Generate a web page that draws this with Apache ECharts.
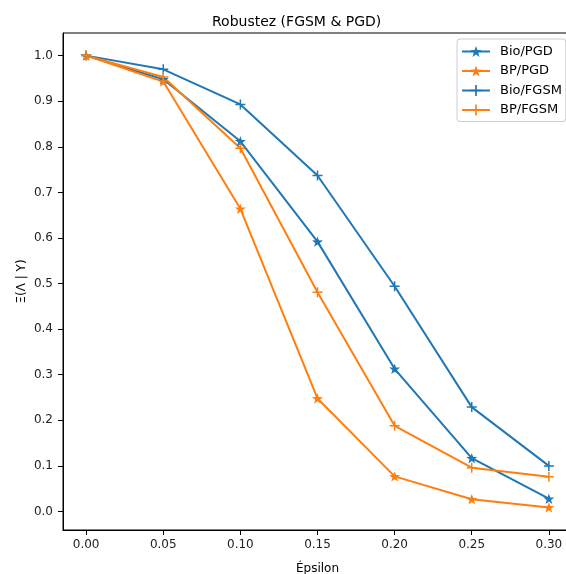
<!DOCTYPE html>
<html>
<head>
<meta charset="utf-8">
<script src="https://cdn.jsdelivr.net/npm/echarts@6/dist/echarts.min.js"></script>
<style>html,body{margin:0;padding:0;background:#fff}#c{width:566px;height:574px}</style>
</head>
<body>
<div id="c"></div>
<script>
const epsilon = [0.00, 0.05, 0.10, 0.15, 0.20, 0.25, 0.30];
const bioPGD  = [1.000, 0.948, 0.812, 0.592, 0.313, 0.117, 0.028];
const bpPGD   = [1.000, 0.943, 0.664, 0.248, 0.077, 0.027, 0.009];
const bioFGSM = [1.000, 0.970, 0.893, 0.737, 0.494, 0.229, 0.100];
const bpFGSM  = [1.000, 0.953, 0.797, 0.481, 0.188, 0.096, 0.076];
const xTicks = [0.00, 0.05, 0.10, 0.15, 0.20, 0.25, 0.30];
const yTicks = [0.0, 0.1, 0.2, 0.3, 0.4, 0.5, 0.6, 0.7, 0.8, 0.9, 1.0];

const BLUE = '#1f77b4', ORANGE = '#ff7f0e';
const STAR = 'path://M0,-10 L2.35,-3.24 L9.51,-3.09 L3.8,1.24 L5.88,8.09 L0,4 L-5.88,8.09 L-3.8,1.24 L-9.51,-3.09 L-2.35,-3.24 Z';
const PLUS = 'path://M-1.5,-10 L1.5,-10 L1.5,-1.5 L10,-1.5 L10,1.5 L1.5,1.5 L1.5,10 L-1.5,10 L-1.5,1.5 L-10,1.5 L-10,-1.5 L-1.5,-1.5 Z';
const FONT = 'DejaVu Sans';

function mk(name, ys, color, sym, size) {
  return {
    name: name, type: 'line',
    data: epsilon.map((x, i) => [x, ys[i]]),
    symbol: sym, symbolSize: size, symbolKeepAspect: true,
    showAllSymbol: true,
    lineStyle: { color: color, width: 2 },
    itemStyle: { color: color },
    emphasis: { disabled: true },
    animation: false
  };
}

const chart = echarts.init(document.getElementById('c'), null, { renderer: 'canvas' });
chart.setOption({
  animation: false,
  backgroundColor: '#fff',
  title: {
    text: 'Robustez (FGSM & PGD)', left: 207, top: 10,
    textStyle: { fontFamily: FONT, fontSize: 14, fontWeight: 'normal', color: '#000' }
  },
  legend: {
    orient: 'vertical', left: 457, top: 39,
    itemWidth: 28, itemHeight: 14, itemGap: 6.5,
    padding: [6, 4, 5, 4],
    borderColor: '#ccc', borderWidth: 1, borderRadius: 3,
    backgroundColor: 'rgba(255,255,255,0.8)',
    textStyle: { fontFamily: FONT, fontSize: 13, color: '#000', padding: [0, 0, 0, 5] },
    data: ['Bio/PGD', 'BP/PGD', 'Bio/FGSM', 'BP/FGSM']
  },
  grid: { left: 63, top: 33, width: 509, height: 497, show: true, borderColor: '#000', borderWidth: 1, containLabel: false, outerBoundsMode: 'none' },
  xAxis: {
    type: 'value', min: -0.015, max: 0.315,
    name: 'Épsilon', nameLocation: 'middle', nameGap: 33, nameMoveOverlap: false,
    nameTextStyle: { fontFamily: FONT, fontSize: 12, color: '#000' },
    axisLine: { show: true, onZero: false, lineStyle: { color: '#000' } },
    axisTick: { show: true, length: 5, customValues: xTicks, lineStyle: { color: '#000' } },
    axisLabel: { customValues: xTicks, fontFamily: FONT, fontSize: 12, color: '#222', margin: 9, formatter: v => v.toFixed(2) },
    splitLine: { show: false }
  },
  yAxis: {
    type: 'value', min: -0.0406, max: 1.0496,
    name: 'Ξ(Λ | Y)', nameLocation: 'middle', nameGap: 35, nameRotate: 90, nameMoveOverlap: false,
    nameTextStyle: { fontFamily: FONT, fontSize: 12, color: '#000' },
    axisLine: { show: true, onZero: false, lineStyle: { color: '#000' } },
    axisTick: { show: true, length: 5, customValues: yTicks, lineStyle: { color: '#000' } },
    axisLabel: { customValues: yTicks, fontFamily: FONT, fontSize: 12, color: '#222', margin: 10, formatter: v => v.toFixed(1) },
    splitLine: { show: false }
  },
  series: [
    mk('Bio/PGD', bioPGD, BLUE, STAR, 11),
    mk('BP/PGD', bpPGD, ORANGE, STAR, 11),
    mk('Bio/FGSM', bioFGSM, BLUE, PLUS, 10),
    mk('BP/FGSM', bpFGSM, ORANGE, PLUS, 10)
  ]
});
</script>
</body>
</html>
